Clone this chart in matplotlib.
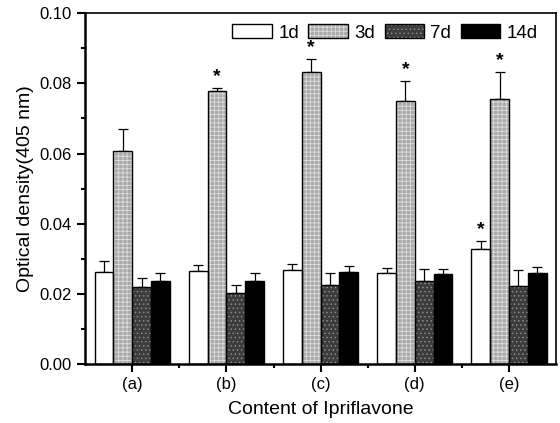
import matplotlib.pyplot as plt
from matplotlib.legend_handler import HandlerTuple
import numpy as np

plt.rcParams['font.family'] = ['Liberation Sans', 'DejaVu Sans']
plt.rcParams['hatch.linewidth'] = 0.6

groups = ["(a)", "(b)", "(c)", "(d)", "(e)"]
series = ["1d", "3d", "7d", "14d"]
means = {
    "1d":  [0.0264, 0.0266, 0.0268, 0.0261, 0.0329],
    "3d":  [0.0608, 0.0777, 0.0833, 0.0751, 0.0754],
    "7d":  [0.0220, 0.0203, 0.0226, 0.0238, 0.0223],
    "14d": [0.0238, 0.0236, 0.0263, 0.0257, 0.0261],
}
errs = {
    "1d":  [0.0030, 0.0017, 0.0016, 0.0014, 0.0021],
    "3d":  [0.0061, 0.0011, 0.0036, 0.0056, 0.0079],
    "7d":  [0.0026, 0.0024, 0.0035, 0.0034, 0.0046],
    "14d": [0.0023, 0.0024, 0.0017, 0.0015, 0.0017],
}
# significance stars: (series, group index)
stars = [("3d", 1), ("3d", 2), ("3d", 3), ("3d", 4), ("1d", 4)]

# fill colour, hatch, hatch colour
styles = {
    "1d":  ("white", None, "white"),
    "3d":  ("#a9a9a9", "++++", "#dedede"),
    "7d":  ("#3c3c3c", "....", "#8a8a8a"),
    "14d": ("black", None, "black"),
}

fig = plt.figure(figsize=(5.6, 4.23), dpi=100)
ax = fig.add_axes([0.152, 0.139, 0.841, 0.830])

x = np.arange(len(groups))
w = 0.2
handles = []
for i, s in enumerate(series):
    pos = x + (i - 1.5) * w
    fc, hatch, hc = styles[s]
    fill = ax.bar(pos, means[s], w, color=fc, hatch=hatch, edgecolor=hc,
                  linewidth=0, zorder=2)
    edge = ax.bar(pos, means[s], w, fill=False, edgecolor="black",
                  linewidth=1.0, zorder=3)
    handles.append((fill, edge))
    ax.errorbar(pos, means[s], yerr=[np.zeros(len(groups)), errs[s]], fmt="none",
                ecolor="black", elinewidth=0.9, capsize=3.5, capthick=0.9, zorder=1)

for s, g in stars:
    i = series.index(s)
    ax.text(x[g] + (i - 1.5) * w, means[s][g] + errs[s][g] + 0.0008, "*",
            ha="center", va="bottom", fontsize=14, fontweight="bold")

ax.set_xlim(-0.5, 4.5)
ax.set_ylim(0, 0.10)
ax.set_xticks(x)
ax.set_xticklabels(groups)
ax.set_xticks(x[:-1] + 0.5, minor=True)
ax.set_yticks(np.arange(0, 0.101, 0.02))
ax.set_yticklabels(["0.00", "0.02", "0.04", "0.06", "0.08", "0.10"])
ax.set_yticks(np.arange(0.01, 0.1, 0.02), minor=True)
ax.tick_params(axis="both", which="major", direction="out", length=6, width=1.5,
               labelsize=12)
ax.tick_params(axis="both", which="minor", direction="out", length=3, width=1.5)

for side in ["left", "bottom"]:
    ax.spines[side].set_linewidth(1.8)
for side in ["top", "right"]:
    ax.spines[side].set_linewidth(1.2)

ax.set_xlabel("Content of Ipriflavone", fontsize=14, labelpad=6)
ax.set_ylabel("Optical density(405 nm)", fontsize=14, labelpad=4)

ax.legend(handles, series, handler_map={tuple: HandlerTuple(ndivide=1)},
          ncol=4, loc="upper right", frameon=False, fontsize=13.5,
          handlelength=2.1, handleheight=0.75, columnspacing=0.5, handletextpad=0.35,
          bbox_to_anchor=(0.985, 1.0), borderaxespad=0.2)

fig.savefig("out.png", dpi=100)
